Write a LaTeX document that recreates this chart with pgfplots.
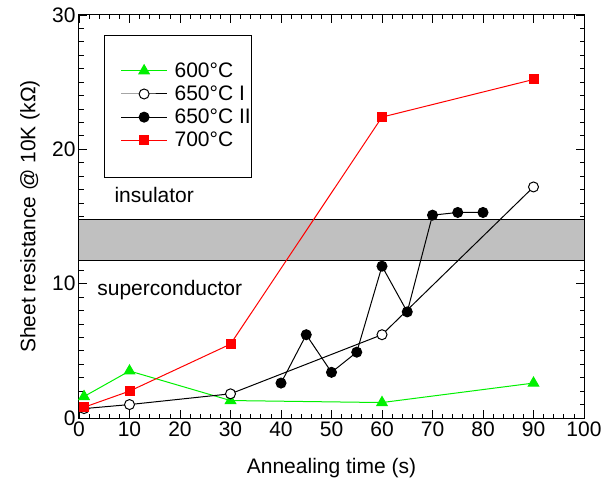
\documentclass[border=0pt]{standalone}
\usepackage{fontspec}
\setmainfont{Liberation Sans}
\usepackage{pgfplots}
\pgfplotsset{compat=1.18}
\definecolor{mygreen}{RGB}{0,240,0}
\definecolor{myred}{RGB}{255,0,0}
\definecolor{band}{RGB}{192,192,192}
\begin{document}
\begin{tikzpicture}
\path[use as bounding box] (-79pt,-66pt) rectangle (525pt,418pt);
\begin{axis}[
  scale only axis, width=505pt, height=403pt,
  at={(0,0)}, anchor=south west,
  xmin=0, xmax=100, ymin=0, ymax=30,
  xtick={0,10,...,100}, ytick={0,10,20,30},
  minor x tick num=4, minor y tick num=9,
  tick align=inside, major tick length=8pt, minor tick length=4.5pt,
  tick style={black, line width=0.8pt},
  axis line style={line width=1pt},
  font=\fontsize{21}{24}\selectfont,
  /pgf/number format/assume math mode=true,
  xlabel={Annealing time (s)}, ylabel={Sheet resistance @ 10K (kΩ)},
  xlabel style={at={(axis description cs:0.5,-0.124)}, anchor=center},
  ylabel style={at={(axis description cs:-0.097,0.5)}, anchor=center},
  legend cell align=left,
  legend style={at={(0.082,0.887)}, anchor=north west, draw=none, fill=none,
    inner sep=0pt, row sep=3pt, column sep=5pt,
    font=\fontsize{21}{24}\selectfont},
  legend image code/.code={\draw[mark repeat=2,mark phase=2,#1] plot coordinates {(0pt,0pt)(23pt,0pt)(46pt,0pt)};},
]
\fill[band] (axis cs:0,11.75) rectangle (axis cs:100,14.8);
\draw[line width=0.8pt] (axis cs:0,11.75) -- (axis cs:100,11.75);
\draw[line width=0.8pt] (axis cs:0,14.8) -- (axis cs:100,14.8);
\draw[line width=0.8pt, fill=white] (rel axis cs:0.0495,0.950) rectangle (rel axis cs:0.3406,0.598);
\addplot[mygreen, line width=1pt, mark=triangle*, mark size=6pt, mark options={solid}] coordinates {
 (1,1.6) (10,3.5) (30,1.3) (60,1.15) (90,2.6)};
\addlegendentry{600°C}
\addplot[black, line width=1pt, mark=*, mark size=5pt, mark options={fill=white}] coordinates {
 (1,0.7) (10,1.0) (30,1.8) (60,6.2) (90,17.2)};
\addlegendentry{650°C I}
\addplot[black, line width=1pt, mark=*, mark size=5pt] coordinates {
 (40,2.6) (45,6.2) (50,3.4) (55,4.9) (60,11.3) (65,7.9) (70,15.1) (75,15.3) (80,15.3)};
\addlegendentry{650°C II}
\addplot[myred, line width=1pt, mark=square*, mark size=4.5pt] coordinates {
 (1,0.8) (10,2.0) (30,5.5) (60,22.4) (90,25.2)};
\addlegendentry{700°C}
\node[anchor=west, inner sep=0pt] at (axis cs:7,16.6) {insulator};
\node[anchor=west, inner sep=0pt] at (axis cs:3.6,9.5) {superconductor};
\end{axis}
\end{tikzpicture}
\end{document}
